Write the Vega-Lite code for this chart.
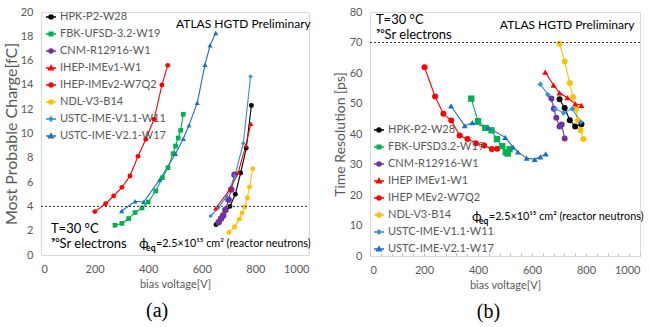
{
  "$schema": "https://vega.github.io/schema/vega-lite/v6.json",
  "padding": {"left": 2, "top": 5, "right": 5, "bottom": 5},
  "spacing": 20,
  "resolve": {"scale": {"color": "independent", "fill": "independent", "stroke": "independent", "shape": "independent"}, "legend": {"color": "independent", "fill": "independent", "stroke": "independent", "shape": "independent"}},
  "datasets": {
    "charge": [
      {"s": "HPK-P2-W28", "v": 653, "q": 2.5}, {"s": "HPK-P2-W28", "v": 705, "q": 4.0}, {"s": "HPK-P2-W28", "v": 725, "q": 5.0}, {"s": "HPK-P2-W28", "v": 745, "q": 6.75}, {"s": "HPK-P2-W28", "v": 766, "q": 8.8}, {"s": "HPK-P2-W28", "v": 785, "q": 12.3},
      {"s": "FBK-UFSD-3.2-W19", "v": 276, "q": 2.45}, {"s": "FBK-UFSD-3.2-W19", "v": 302, "q": 2.6}, {"s": "FBK-UFSD-3.2-W19", "v": 327, "q": 3.0}, {"s": "FBK-UFSD-3.2-W19", "v": 351, "q": 3.5}, {"s": "FBK-UFSD-3.2-W19", "v": 377, "q": 3.87}, {"s": "FBK-UFSD-3.2-W19", "v": 400, "q": 4.36}, {"s": "FBK-UFSD-3.2-W19", "v": 428, "q": 5.27}, {"s": "FBK-UFSD-3.2-W19", "v": 453, "q": 6.36}, {"s": "FBK-UFSD-3.2-W19", "v": 474, "q": 7.19}, {"s": "FBK-UFSD-3.2-W19", "v": 493, "q": 8.34}, {"s": "FBK-UFSD-3.2-W19", "v": 502, "q": 8.97}, {"s": "FBK-UFSD-3.2-W19", "v": 512, "q": 9.63}, {"s": "FBK-UFSD-3.2-W19", "v": 521, "q": 10.26}, {"s": "FBK-UFSD-3.2-W19", "v": 531, "q": 11.58},
      {"s": "CNM-R12916-W1", "v": 663, "q": 2.7}, {"s": "CNM-R12916-W1", "v": 672, "q": 3.0}, {"s": "CNM-R12916-W1", "v": 680, "q": 3.25}, {"s": "CNM-R12916-W1", "v": 688, "q": 3.7}, {"s": "CNM-R12916-W1", "v": 700, "q": 4.55}, {"s": "CNM-R12916-W1", "v": 710, "q": 5.4}, {"s": "CNM-R12916-W1", "v": 722, "q": 6.6},
      {"s": "IHEP-IMEv1-W1", "v": 652, "q": 3.85}, {"s": "IHEP-IMEv1-W1", "v": 705, "q": 5.4}, {"s": "IHEP-IMEv1-W1", "v": 736, "q": 6.8}, {"s": "IHEP-IMEv1-W1", "v": 764, "q": 9.0}, {"s": "IHEP-IMEv1-W1", "v": 783, "q": 10.8},
      {"s": "IHEP-IMEv2-W7Q2", "v": 201, "q": 3.57}, {"s": "IHEP-IMEv2-W7Q2", "v": 241, "q": 4.22}, {"s": "IHEP-IMEv2-W7Q2", "v": 271, "q": 4.86}, {"s": "IHEP-IMEv2-W7Q2", "v": 302, "q": 5.57}, {"s": "IHEP-IMEv2-W7Q2", "v": 332, "q": 6.5}, {"s": "IHEP-IMEv2-W7Q2", "v": 362, "q": 8.12}, {"s": "IHEP-IMEv2-W7Q2", "v": 391, "q": 9.52}, {"s": "IHEP-IMEv2-W7Q2", "v": 422, "q": 11.17}, {"s": "IHEP-IMEv2-W7Q2", "v": 451, "q": 13.99}, {"s": "IHEP-IMEv2-W7Q2", "v": 473, "q": 15.61},
      {"s": "NDL-V3-B14", "v": 701, "q": 1.85}, {"s": "NDL-V3-B14", "v": 722, "q": 2.3}, {"s": "NDL-V3-B14", "v": 740, "q": 2.95}, {"s": "NDL-V3-B14", "v": 750, "q": 3.45}, {"s": "NDL-V3-B14", "v": 760, "q": 3.95}, {"s": "NDL-V3-B14", "v": 770, "q": 4.7}, {"s": "NDL-V3-B14", "v": 778, "q": 5.6}, {"s": "NDL-V3-B14", "v": 790, "q": 7.1},
      {"s": "USTC-IME-V1.1-W11", "v": 633, "q": 3.2}, {"s": "USTC-IME-V1.1-W11", "v": 662, "q": 3.9}, {"s": "USTC-IME-V1.1-W11", "v": 693, "q": 4.8}, {"s": "USTC-IME-V1.1-W11", "v": 723, "q": 6.5}, {"s": "USTC-IME-V1.1-W11", "v": 755, "q": 9.2}, {"s": "USTC-IME-V1.1-W11", "v": 782, "q": 14.7},
      {"s": "USTC-IME-V2.1-W17", "v": 301, "q": 3.62}, {"s": "USTC-IME-V2.1-W17", "v": 351, "q": 4.42}, {"s": "USTC-IME-V2.1-W17", "v": 383, "q": 4.36}, {"s": "USTC-IME-V2.1-W17", "v": 443, "q": 6.2}, {"s": "USTC-IME-V2.1-W17", "v": 502, "q": 8.34}, {"s": "USTC-IME-V2.1-W17", "v": 531, "q": 9.57}, {"s": "USTC-IME-V2.1-W17", "v": 552, "q": 10.67}, {"s": "USTC-IME-V2.1-W17", "v": 583, "q": 12.53}, {"s": "USTC-IME-V2.1-W17", "v": 612, "q": 15.66}, {"s": "USTC-IME-V2.1-W17", "v": 631, "q": 17.26}, {"s": "USTC-IME-V2.1-W17", "v": 652, "q": 18.27}
    ],
    "timeres": [
      {"s": "HPK-P2-W28", "v": 702, "q": 51.4}, {"s": "HPK-P2-W28", "v": 721, "q": 48.5}, {"s": "HPK-P2-W28", "v": 740, "q": 44.5}, {"s": "HPK-P2-W28", "v": 760, "q": 42.5}, {"s": "HPK-P2-W28", "v": 783, "q": 43.2},
      {"s": "FBK-UFSD3.2-W19", "v": 375, "q": 51.6}, {"s": "FBK-UFSD3.2-W19", "v": 400, "q": 44.2}, {"s": "FBK-UFSD3.2-W19", "v": 427, "q": 42.0}, {"s": "FBK-UFSD3.2-W19", "v": 450, "q": 41.2}, {"s": "FBK-UFSD3.2-W19", "v": 470, "q": 38.3}, {"s": "FBK-UFSD3.2-W19", "v": 490, "q": 36.0}, {"s": "FBK-UFSD3.2-W19", "v": 503, "q": 34.0}, {"s": "FBK-UFSD3.2-W19", "v": 510, "q": 33.6}, {"s": "FBK-UFSD3.2-W19", "v": 517, "q": 35.0},
      {"s": "CNM-R12916-W1", "v": 672, "q": 51.6}, {"s": "CNM-R12916-W1", "v": 681, "q": 48.3}, {"s": "CNM-R12916-W1", "v": 690, "q": 45.3}, {"s": "CNM-R12916-W1", "v": 702, "q": 42.5}, {"s": "CNM-R12916-W1", "v": 710, "q": 43.1}, {"s": "CNM-R12916-W1", "v": 721, "q": 38.5},
      {"s": "IHEP IMEv1-W1", "v": 649, "q": 60.3}, {"s": "IHEP IMEv1-W1", "v": 680, "q": 56.0}, {"s": "IHEP IMEv1-W1", "v": 702, "q": 53.5}, {"s": "IHEP IMEv1-W1", "v": 731, "q": 51.9}, {"s": "IHEP IMEv1-W1", "v": 760, "q": 49.9}, {"s": "IHEP IMEv1-W1", "v": 783, "q": 49.4},
      {"s": "IHEP MEv2-W7Q2", "v": 202, "q": 61.9}, {"s": "IHEP MEv2-W7Q2", "v": 241, "q": 52.3}, {"s": "IHEP MEv2-W7Q2", "v": 272, "q": 46.6}, {"s": "IHEP MEv2-W7Q2", "v": 301, "q": 44.4}, {"s": "IHEP MEv2-W7Q2", "v": 332, "q": 39.5}, {"s": "IHEP MEv2-W7Q2", "v": 361, "q": 38.4}, {"s": "IHEP MEv2-W7Q2", "v": 392, "q": 37.0}, {"s": "IHEP MEv2-W7Q2", "v": 423, "q": 36.2}, {"s": "IHEP MEv2-W7Q2", "v": 451, "q": 35.1}, {"s": "IHEP MEv2-W7Q2", "v": 471, "q": 35.2},
      {"s": "NDL-V3-B14", "v": 702, "q": 69.6}, {"s": "NDL-V3-B14", "v": 721, "q": 63.8}, {"s": "NDL-V3-B14", "v": 740, "q": 56.7}, {"s": "NDL-V3-B14", "v": 752, "q": 52.1}, {"s": "NDL-V3-B14", "v": 763, "q": 48.3}, {"s": "NDL-V3-B14", "v": 770, "q": 44.5}, {"s": "NDL-V3-B14", "v": 780, "q": 41.2}, {"s": "NDL-V3-B14", "v": 790, "q": 38.4},
      {"s": "USTC-IME-V1.1-W11", "v": 631, "q": 56.3}, {"s": "USTC-IME-V1.1-W11", "v": 659, "q": 52.9}, {"s": "USTC-IME-V1.1-W11", "v": 686, "q": 48.3}, {"s": "USTC-IME-V1.1-W11", "v": 717, "q": 46.9}, {"s": "USTC-IME-V1.1-W11", "v": 749, "q": 48.3}, {"s": "USTC-IME-V1.1-W11", "v": 780, "q": 43.9},
      {"s": "USTC-IME-V2.1-W17", "v": 300, "q": 49.2}, {"s": "USTC-IME-V2.1-W17", "v": 351, "q": 42.7}, {"s": "USTC-IME-V2.1-W17", "v": 379, "q": 43.7}, {"s": "USTC-IME-V2.1-W17", "v": 439, "q": 42.0}, {"s": "USTC-IME-V2.1-W17", "v": 501, "q": 38.9}, {"s": "USTC-IME-V2.1-W17", "v": 530, "q": 35.7}, {"s": "USTC-IME-V2.1-W17", "v": 548, "q": 34.1}, {"s": "USTC-IME-V2.1-W17", "v": 580, "q": 32.1}, {"s": "USTC-IME-V2.1-W17", "v": 610, "q": 31.7}, {"s": "USTC-IME-V2.1-W17", "v": 631, "q": 32.5}, {"s": "USTC-IME-V2.1-W17", "v": 651, "q": 33.5}
    ],
    "annA": [
      {"v": 504, "q": 19.0, "label": "ATLAS HGTD Preliminary", "k": "a"},
      {"v": 37, "q": 2.1, "label": "T=30 °C", "k": "b"},
      {"v": 37, "q": 0.93, "label": "⁹⁰Sr electrons", "k": "b"},
      {"v": 366, "q": 0.93, "label": "ϕ", "k": "phi"},
      {"v": 366, "q": 0.93, "label": "eq", "k": "sub"},
      {"v": 366, "q": 0.93, "label": "=2.5×10¹⁵ cm² (reactor neutrons)", "k": "rest"}
    ],
    "annB": [
      {"v": 481, "q": 75.8, "label": "ATLAS HGTD Preliminary", "k": "a"},
      {"v": 22, "q": 77.3, "label": "T=30 °C", "k": "b"},
      {"v": 22, "q": 72.4, "label": "⁹⁰Sr electrons", "k": "b"},
      {"v": 378, "q": 12.8, "label": "ϕ", "k": "phi"},
      {"v": 378, "q": 12.8, "label": "eq", "k": "sub"},
      {"v": 378, "q": 12.8, "label": "=2.5×10¹⁵ cm² (reactor neutrons)", "k": "rest"}
    ],
    "lineA": [{"v": 0, "q": 4}, {"v": 1000, "q": 4}],
    "lineB": [{"v": 0, "q": 70}, {"v": 1000, "q": 70}]
  },
  "hconcat": [
    {
      "name": "pa",
      "width": 268,
      "height": 243,
      "title": {"text": "(a)"},
      "resolve": {"scale": {"fill": "independent", "stroke": "independent", "shape": "independent"}, "legend": {"fill": "independent", "stroke": "independent", "shape": "independent"}},
      "encoding": {
        "x": {"field": "v", "type": "quantitative", "scale": {"domain": [0, 1000], "nice": false}, "axis": {"title": "bias voltage[V]", "format": "d", "values": [0, 200, 400, 600, 800, 1000], "labelPadding": 8, "titlePadding": 4}},
        "y": {"field": "q", "type": "quantitative", "scale": {"domain": [0, 20], "nice": false}, "axis": {"title": "Most Probable Charge[fC]", "values": [0, 2, 4, 6, 8, 10, 12, 14, 16, 18, 20], "titleFontSize": 16, "titlePadding": 1, "labelPadding": 8}}
      },
      "layer": [
        {
          "data": {"name": "charge"},
          "mark": {"type": "line", "strokeWidth": 1.1},
          "encoding": {
            "color": {"field": "s", "type": "nominal", "legend": null, "scale": {"domain": ["HPK-P2-W28", "FBK-UFSD-3.2-W19", "CNM-R12916-W1", "IHEP-IMEv1-W1", "IHEP-IMEv2-W7Q2", "NDL-V3-B14", "USTC-IME-V1.1-W11", "USTC-IME-V2.1-W17"], "range": ["#000000", "#00B050", "#7030A0", "#FF0000", "#FF0000", "#FFC000", "#2E8FDB", "#1F6FBF"]}}
          }
        },
        {
          "data": {"name": "charge"},
          "transform": [{"filter": "datum.s == 'HPK-P2-W28' || datum.s == 'IHEP-IMEv2-W7Q2' || datum.s == 'NDL-V3-B14'"}],
          "mark": {"type": "point", "filled": true, "opacity": 1, "size": 24, "shape": "circle"},
          "encoding": {"color": {"field": "s", "type": "nominal", "legend": null}}
        },
        {
          "data": {"name": "charge"},
          "transform": [{"filter": "datum.s == 'CNM-R12916-W1'"}],
          "mark": {"type": "point", "filled": true, "opacity": 1, "size": 42, "shape": "circle"},
          "encoding": {"color": {"field": "s", "type": "nominal", "legend": null}}
        },
        {
          "data": {"name": "charge"},
          "transform": [{"filter": "datum.s == 'FBK-UFSD-3.2-W19'"}],
          "mark": {"type": "point", "filled": true, "opacity": 1, "size": 22, "shape": "square"},
          "encoding": {"color": {"field": "s", "type": "nominal", "legend": null}}
        },
        {
          "data": {"name": "charge"},
          "transform": [{"filter": "datum.s == 'IHEP-IMEv1-W1' || datum.s == 'USTC-IME-V2.1-W17'"}],
          "mark": {"type": "point", "filled": true, "opacity": 1, "size": 26, "shape": "triangle-up"},
          "encoding": {"color": {"field": "s", "type": "nominal", "legend": null}}
        },
        {
          "data": {"name": "charge"},
          "transform": [{"filter": "datum.s == 'USTC-IME-V1.1-W11'"}],
          "mark": {"type": "point", "filled": true, "opacity": 1, "size": 20, "shape": "diamond"},
          "encoding": {"color": {"field": "s", "type": "nominal", "legend": null}}
        },
        {
          "data": {"name": "charge"},
          "mark": {"type": "point", "filled": true, "opacity": 0},
          "encoding": {
            "fill": {"field": "s", "type": "nominal", "legend": {"title": null, "orient": "none", "legendX": 4, "legendY": -1}, "scale": {"domain": ["HPK-P2-W28", "FBK-UFSD-3.2-W19", "CNM-R12916-W1", "IHEP-IMEv1-W1", "IHEP-IMEv2-W7Q2", "NDL-V3-B14", "USTC-IME-V1.1-W11", "USTC-IME-V2.1-W17"], "range": ["#000000", "#00B050", "#7030A0", "#FF0000", "#FF0000", "#FFC000", "#2E8FDB", "#1F6FBF"]}},
            "stroke": {"field": "s", "type": "nominal", "legend": {"title": null, "orient": "none", "legendX": 4, "legendY": -1}, "scale": {"domain": ["HPK-P2-W28", "FBK-UFSD-3.2-W19", "CNM-R12916-W1", "IHEP-IMEv1-W1", "IHEP-IMEv2-W7Q2", "NDL-V3-B14", "USTC-IME-V1.1-W11", "USTC-IME-V2.1-W17"], "range": ["#000000", "#00B050", "#7030A0", "#FF0000", "#FF0000", "#FFC000", "#2E8FDB", "#1F6FBF"]}},
            "shape": {"field": "s", "type": "nominal", "legend": {"title": null, "orient": "none", "legendX": 4, "legendY": -1}, "scale": {"domain": ["HPK-P2-W28", "FBK-UFSD-3.2-W19", "CNM-R12916-W1", "IHEP-IMEv1-W1", "IHEP-IMEv2-W7Q2", "NDL-V3-B14", "USTC-IME-V1.1-W11", "USTC-IME-V2.1-W17"], "range": ["M-1,0H1M0.42,0A0.42,0.42,0,1,1,-0.42,0A0.42,0.42,0,1,1,0.42,0Z", "M-1,0H1M-0.38,-0.38H0.38V0.38H-0.38Z", "M-1,0H1M0.42,0A0.42,0.42,0,1,1,-0.42,0A0.42,0.42,0,1,1,0.42,0Z", "M-1,0H1M0,-0.48L0.48,0.36H-0.48Z", "M-1,0H1M0.42,0A0.42,0.42,0,1,1,-0.42,0A0.42,0.42,0,1,1,0.42,0Z", "M-1,0H1M0.42,0A0.42,0.42,0,1,1,-0.42,0A0.42,0.42,0,1,1,0.42,0Z", "M-1,0H1M0,-0.42L0.38,0L0,0.42L-0.38,0Z", "M-1,0H1M0,-0.48L0.48,0.36H-0.48Z"]}}
          }
        },
        {
          "data": {"name": "lineA"},
          "mark": {"type": "line", "strokeDash": [2, 2], "color": "#333333", "strokeWidth": 1}
        },
        {
          "data": {"name": "annA"},
          "transform": [{"filter": "datum.k == 'a'"}],
          "mark": {"type": "text", "align": "left", "baseline": "middle", "fontSize": 12, "color": "#000000"},
          "encoding": {"text": {"field": "label"}}
        },
        {
          "data": {"name": "annA"},
          "transform": [{"filter": "datum.k == 'b'"}],
          "mark": {"type": "text", "align": "left", "baseline": "middle", "fontSize": 13, "color": "#000000"},
          "encoding": {"text": {"field": "label"}}
        },
        {
          "data": {"name": "annA"},
          "transform": [{"filter": "datum.k == 'phi'"}],
          "mark": {"type": "text", "align": "left", "baseline": "middle", "fontSize": 13, "color": "#000000"},
          "encoding": {"text": {"field": "label"}}
        },
        {
          "data": {"name": "annA"},
          "transform": [{"filter": "datum.k == 'sub'"}],
          "mark": {"type": "text", "align": "left", "baseline": "middle", "fontSize": 8.5, "fontWeight": "bold", "dx": 7, "dy": 4, "color": "#000000"},
          "encoding": {"text": {"field": "label"}}
        },
        {
          "data": {"name": "annA"},
          "transform": [{"filter": "datum.k == 'rest'"}],
          "mark": {"type": "text", "align": "left", "baseline": "middle", "fontSize": 10.8, "dx": 17, "color": "#000000"},
          "encoding": {"text": {"field": "label"}}
        }
      ]
    },
    {
      "name": "pb",
      "width": 270,
      "height": 244,
      "title": {"text": "(b)"},
      "resolve": {"scale": {"fill": "independent", "stroke": "independent", "shape": "independent"}, "legend": {"fill": "independent", "stroke": "independent", "shape": "independent"}},
      "encoding": {
        "x": {"field": "v", "type": "quantitative", "scale": {"domain": [0, 1000], "nice": false}, "axis": {"title": "bias voltage[V]", "format": "d", "values": [0, 40, 80, 120, 160, 200, 240, 280, 320, 360, 400, 440, 480, 520, 560, 600, 640, 680, 720, 760, 800, 840, 880, 920, 960, 1000], "labelExpr": "datum.value % 200 === 0 ? datum.label : ''", "ticks": true, "tickSize": -3, "tickColor": "#BFBFBF", "labelPadding": 11, "titlePadding": 4}},
        "y": {"field": "q", "type": "quantitative", "scale": {"domain": [0, 80], "nice": false}, "axis": {"title": "Time Resolution [ps]", "values": [0, 10, 20, 30, 40, 50, 60, 70, 80], "titleFontSize": 14, "titlePadding": 2, "labelPadding": 8}}
      },
      "layer": [
        {
          "data": {"name": "timeres"},
          "mark": {"type": "line", "strokeWidth": 1.1},
          "encoding": {
            "color": {"field": "s", "type": "nominal", "legend": null, "scale": {"domain": ["HPK-P2-W28", "FBK-UFSD3.2-W19", "CNM-R12916-W1", "IHEP IMEv1-W1", "IHEP MEv2-W7Q2", "NDL-V3-B14", "USTC-IME-V1.1-W11", "USTC-IME-V2.1-W17"], "range": ["#000000", "#00B050", "#7030A0", "#FF0000", "#FF0000", "#FFC000", "#2E8FDB", "#1F6FBF"]}}
          }
        },
        {
          "data": {"name": "timeres"},
          "transform": [{"filter": "datum.s == 'HPK-P2-W28' || datum.s == 'IHEP MEv2-W7Q2' || datum.s == 'NDL-V3-B14' || datum.s == 'CNM-R12916-W1'"}],
          "mark": {"type": "point", "filled": true, "opacity": 1, "size": 36, "shape": "circle"},
          "encoding": {"color": {"field": "s", "type": "nominal", "legend": null}}
        },
        {
          "data": {"name": "timeres"},
          "transform": [{"filter": "datum.s == 'FBK-UFSD3.2-W19'"}],
          "mark": {"type": "point", "filled": true, "opacity": 1, "size": 40, "shape": "square"},
          "encoding": {"color": {"field": "s", "type": "nominal", "legend": null}}
        },
        {
          "data": {"name": "timeres"},
          "transform": [{"filter": "datum.s == 'IHEP IMEv1-W1' || datum.s == 'USTC-IME-V2.1-W17'"}],
          "mark": {"type": "point", "filled": true, "opacity": 1, "size": 36, "shape": "triangle-up"},
          "encoding": {"color": {"field": "s", "type": "nominal", "legend": null}}
        },
        {
          "data": {"name": "timeres"},
          "transform": [{"filter": "datum.s == 'USTC-IME-V1.1-W11'"}],
          "mark": {"type": "point", "filled": true, "opacity": 1, "size": 30, "shape": "diamond"},
          "encoding": {"color": {"field": "s", "type": "nominal", "legend": null}}
        },
        {
          "data": {"name": "timeres"},
          "mark": {"type": "point", "filled": true, "opacity": 0},
          "encoding": {
            "fill": {"field": "s", "type": "nominal", "legend": {"title": null, "orient": "none", "legendX": 3, "legendY": 112}, "scale": {"domain": ["HPK-P2-W28", "FBK-UFSD3.2-W19", "CNM-R12916-W1", "IHEP IMEv1-W1", "IHEP MEv2-W7Q2", "NDL-V3-B14", "USTC-IME-V1.1-W11", "USTC-IME-V2.1-W17"], "range": ["#000000", "#00B050", "#7030A0", "#FF0000", "#FF0000", "#FFC000", "#2E8FDB", "#1F6FBF"]}},
            "stroke": {"field": "s", "type": "nominal", "legend": {"title": null, "orient": "none", "legendX": 3, "legendY": 112}, "scale": {"domain": ["HPK-P2-W28", "FBK-UFSD3.2-W19", "CNM-R12916-W1", "IHEP IMEv1-W1", "IHEP MEv2-W7Q2", "NDL-V3-B14", "USTC-IME-V1.1-W11", "USTC-IME-V2.1-W17"], "range": ["#000000", "#00B050", "#7030A0", "#FF0000", "#FF0000", "#FFC000", "#2E8FDB", "#1F6FBF"]}},
            "shape": {"field": "s", "type": "nominal", "legend": {"title": null, "orient": "none", "legendX": 3, "legendY": 112}, "scale": {"domain": ["HPK-P2-W28", "FBK-UFSD3.2-W19", "CNM-R12916-W1", "IHEP IMEv1-W1", "IHEP MEv2-W7Q2", "NDL-V3-B14", "USTC-IME-V1.1-W11", "USTC-IME-V2.1-W17"], "range": ["M-1,0H1M0.42,0A0.42,0.42,0,1,1,-0.42,0A0.42,0.42,0,1,1,0.42,0Z", "M-1,0H1M-0.38,-0.38H0.38V0.38H-0.38Z", "M-1,0H1M0.42,0A0.42,0.42,0,1,1,-0.42,0A0.42,0.42,0,1,1,0.42,0Z", "M-1,0H1M0,-0.48L0.48,0.36H-0.48Z", "M-1,0H1M0.42,0A0.42,0.42,0,1,1,-0.42,0A0.42,0.42,0,1,1,0.42,0Z", "M-1,0H1M0.42,0A0.42,0.42,0,1,1,-0.42,0A0.42,0.42,0,1,1,0.42,0Z", "M-1,0H1M0,-0.42L0.38,0L0,0.42L-0.38,0Z", "M-1,0H1M0,-0.48L0.48,0.36H-0.48Z"]}}
          }
        },
        {
          "data": {"name": "lineB"},
          "mark": {"type": "line", "strokeDash": [2, 2], "color": "#333333", "strokeWidth": 1}
        },
        {
          "data": {"name": "annB"},
          "transform": [{"filter": "datum.k == 'a'"}],
          "mark": {"type": "text", "align": "left", "baseline": "middle", "fontSize": 12, "color": "#000000"},
          "encoding": {"text": {"field": "label"}}
        },
        {
          "data": {"name": "annB"},
          "transform": [{"filter": "datum.k == 'b'"}],
          "mark": {"type": "text", "align": "left", "baseline": "middle", "fontSize": 13, "color": "#000000"},
          "encoding": {"text": {"field": "label"}}
        },
        {
          "data": {"name": "annB"},
          "transform": [{"filter": "datum.k == 'phi'"}],
          "mark": {"type": "text", "align": "left", "baseline": "middle", "fontSize": 13, "color": "#000000"},
          "encoding": {"text": {"field": "label"}}
        },
        {
          "data": {"name": "annB"},
          "transform": [{"filter": "datum.k == 'sub'"}],
          "mark": {"type": "text", "align": "left", "baseline": "middle", "fontSize": 8.5, "fontWeight": "bold", "dx": 7, "dy": 4, "color": "#000000"},
          "encoding": {"text": {"field": "label"}}
        },
        {
          "data": {"name": "annB"},
          "transform": [{"filter": "datum.k == 'rest'"}],
          "mark": {"type": "text", "align": "left", "baseline": "middle", "fontSize": 10.8, "dx": 17, "color": "#000000"},
          "encoding": {"text": {"field": "label"}}
        }
      ]
    }
  ],
  "config": {
    "font": "Lato",
    "background": "#ffffff",
    "view": {"stroke": "#D9D9D9"},
    "axis": {"grid": false, "domain": false, "ticks": false, "labelColor": "#595959", "labelFontSize": 11, "labelFont": "Lato", "titleColor": "#595959", "titleFontWeight": "normal", "titleFont": "Lato", "titleFontSize": 11},
    "legend": {"symbolSize": 100, "symbolStrokeWidth": 1.3, "symbolOpacity": 1, "symbolFillColor": "#000000", "symbolStrokeColor": "#000000", "labelFontSize": 11, "labelColor": "#595959", "labelFont": "Lato", "rowPadding": 6, "labelOffset": 3, "padding": 0},
    "title": {"font": "Liberation Serif", "fontSize": 20, "fontWeight": "normal", "color": "#000000", "orient": "bottom", "anchor": "middle", "frame": "bounds", "offset": 12}
  }
}
